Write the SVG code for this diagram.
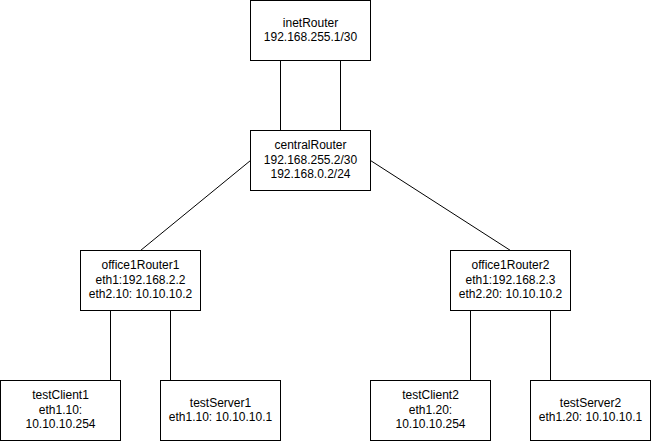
<svg xmlns="http://www.w3.org/2000/svg" width="651" height="441" viewBox="0 0 651 441">
<style>
.box{fill:#ffffff;stroke:#000000;stroke-width:1}
.edge{fill:none;stroke:#000000;stroke-width:1}
text{font-family:"Liberation Sans",Arial,Helvetica,sans-serif;font-size:12px;fill:#000000;text-anchor:middle}
</style>
<rect width="651" height="441" fill="#ffffff"/>
<g id="connectors">
<path class="edge" d="M280.5 60.5V130.5"/>
<path class="edge" d="M340.5 60.5V130.5"/>
<path class="edge" d="M250.5 160.5L140.5 250.5"/>
<path class="edge" d="M370.5 160.5L510.5 250.5"/>
<path class="edge" d="M110.5 310.5V380.5"/>
<path class="edge" d="M170.5 310.5V380.5"/>
<path class="edge" d="M470.5 310.5V380.5"/>
<path class="edge" d="M550.5 310.5V380.5"/>
</g>
<g id="inetRouter">
<rect class="box" x="250.5" y="0.5" width="120" height="60"/>
<text x="310.5" y="26.6">inetRouter</text>
<text x="310.5" y="41">192.168.255.1/30</text>
</g>
<g id="centralRouter">
<rect class="box" x="250.5" y="130.5" width="120" height="60"/>
<text x="310.5" y="149.4">centralRouter</text>
<text x="310.5" y="163.8">192.168.255.2/30</text>
<text x="310.5" y="178.2">192.168.0.2/24</text>
</g>
<g id="office1Router1">
<rect class="box" x="80.5" y="250.5" width="120" height="60"/>
<text x="140.5" y="269.4">office1Router1</text>
<text x="140.5" y="283.8">eth1:192.168.2.2</text>
<text x="140.5" y="298.2">eth2.10: 10.10.10.2</text>
</g>
<g id="office1Router2">
<rect class="box" x="450.5" y="250.5" width="120" height="60"/>
<text x="510.5" y="269.4">office1Router2</text>
<text x="510.5" y="283.8">eth1:192.168.2.3</text>
<text x="510.5" y="298.2">eth2.20: 10.10.10.2</text>
</g>
<g id="testClient1">
<rect class="box" x="0.5" y="380.5" width="120" height="60"/>
<text x="60.5" y="399.4">testClient1</text>
<text x="60.5" y="413.8">eth1.10:</text>
<text x="60.5" y="428.2">10.10.10.254</text>
</g>
<g id="testServer1">
<rect class="box" x="160.5" y="380.5" width="120" height="60"/>
<text x="220.5" y="406.6">testServer1</text>
<text x="220.5" y="421">eth1.10: 10.10.10.1</text>
</g>
<g id="testClient2">
<rect class="box" x="370.5" y="380.5" width="120" height="60"/>
<text x="430.5" y="399.4">testClient2</text>
<text x="430.5" y="413.8">eth1.20:</text>
<text x="430.5" y="428.2">10.10.10.254</text>
</g>
<g id="testServer2">
<rect class="box" x="530.5" y="380.5" width="120" height="60"/>
<text x="590.5" y="406.6">testServer2</text>
<text x="590.5" y="421">eth1.20: 10.10.10.1</text>
</g>
</svg>
